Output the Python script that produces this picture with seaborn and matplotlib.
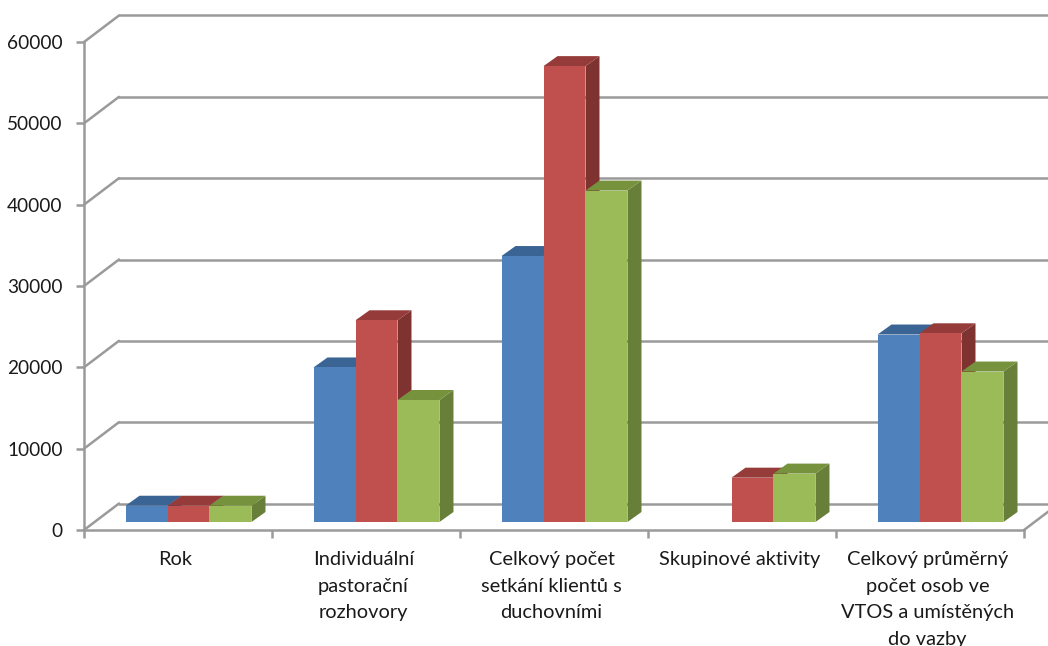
import matplotlib
matplotlib.use("Agg")
import matplotlib.pyplot as plt
from matplotlib.patches import Polygon
from matplotlib.transforms import ScaledTranslation
import numpy as np
import pandas as pd
import seaborn as sns

# chart data
categories = [
    "Rok",
    "Individuální\npastorační\nrozhovory",
    "Celkový počet\nsetkání klientů s\nduchovními",
    "Skupinové aktivity",
    "Celkový průměrný\npočet osob ve\nVTOS a umístěných\ndo vazby",
]
series_a = [2000, 19000, 32700, np.nan, 23050]
series_b = [2000, 24800, 56050, 5450, 23200]
series_c = [2000, 15000, 40750, 5950, 18500]
y_ticks = [0, 10000, 20000, 30000, 40000, 50000, 60000]

front_colors = ["#4F81BD", "#C0504D", "#9BBB59"]
top_colors = ["#3A6493", "#953B39", "#76923C"]
side_colors = ["#2F5078", "#7F3331", "#677F38"]
line_color = "#9A9A9A"

df = pd.DataFrame({
    "category": categories * 3,
    "series": ["a"] * 5 + ["b"] * 5 + ["c"] * 5,
    "value": series_a + series_b + series_c,
})

sns.set_theme(style="white")
plt.rcParams["font.family"] = ["Lato", "DejaVu Sans"]

W, H = 1048, 646
fig = plt.figure(figsize=(W / 100, H / 100), dpi=100)
# axes = front plane of the fake 3d box
ax = fig.add_axes([84 / W, (H - 530) / H, 940 / W, 488 / H])


def shift(px_x, px_y):
    return ax.transData + ScaledTranslation(px_x / 100, px_y / 100, fig.dpi_scale_trans)


sns.barplot(data=df, x="category", y="value", hue="series", palette=front_colors,
            saturation=1, width=0.67, gap=0, legend=False, ax=ax)
ax.set_xlim(-0.5, 4.5)
ax.set_ylim(0, 60000)
ax.set_xlabel("")
ax.set_ylabel("")

# walls: back gridlines and the diagonals that join them to the y axis
for y in y_ticks:
    ax.plot([-0.5, 4.8], [y, y], color=line_color, lw=1.8, clip_on=False,
            transform=shift(35, 26.5), zorder=1)
    ax.plot([-0.5, -0.5 + 35 * 5 / 940], [y, y + 26.5 * 60000 / 488], color=line_color,
            lw=1.8, clip_on=False, zorder=1)
ax.plot([4.5, 4.5 + 35 * 5 / 940], [0, 26.5 * 60000 / 488], color=line_color, lw=1.8,
        clip_on=False, zorder=1)

# bars sit a bit behind the front plane, add top and side faces
plane = shift(10.5, 8)
depth_x = 14 * 5 / 940
depth_y = 10 * 60000 / 488
for i, container in enumerate(ax.containers):
    for bar in container:
        x0, w, h = bar.get_x(), bar.get_width(), bar.get_height()
        if np.isnan(h) or h == 0:
            continue
        x1 = x0 + w
        z = 3 + i * 3
        side = Polygon([(x1, 0), (x1 + depth_x, depth_y), (x1 + depth_x, h + depth_y), (x1, h)],
                       facecolor=side_colors[i], edgecolor="none", transform=plane,
                       clip_on=False, zorder=z)
        top = Polygon([(x0, h), (x0 + depth_x, h + depth_y), (x1 + depth_x, h + depth_y), (x1, h)],
                      facecolor=top_colors[i], edgecolor="none", transform=plane,
                      clip_on=False, zorder=z + 1)
        ax.add_patch(side)
        ax.add_patch(top)
        bar.set_transform(plane)
        bar.set_clip_on(False)
        bar.set_linewidth(0)
        bar.set_zorder(z + 2)

sns.despine(ax=ax, top=True, right=True)
for s in ["left", "bottom"]:
    ax.spines[s].set_color(line_color)
    ax.spines[s].set_linewidth(1.8)
    ax.spines[s].set_zorder(2)

ax.set_yticks(y_ticks)
ax.set_yticklabels([str(v) for v in y_ticks])
ax.tick_params(axis="y", length=5.5, width=1.8, color=line_color, labelsize=13.7,
               labelcolor="#1A1A1A", pad=10, left=True)

# categories sit between the tick marks
ax.set_xticks(np.arange(-0.5, 5, 1))
ax.set_xticklabels([])
ax.set_xticks(np.arange(5), labels=categories, minor=True)
ax.tick_params(axis="x", which="major", length=5.5, width=1.8, color=line_color, bottom=True)
ax.tick_params(axis="x", which="minor", length=0, labelsize=14.4, labelcolor="#1A1A1A", pad=15)
nudge = ScaledTranslation(-2.5 / 100, 0, fig.dpi_scale_trans)
for label in ax.get_xticklabels(minor=True):
    label.set_linespacing(1.7)
    label.set_transform(label.get_transform() + nudge)

fig.savefig("out.png", dpi=100)
